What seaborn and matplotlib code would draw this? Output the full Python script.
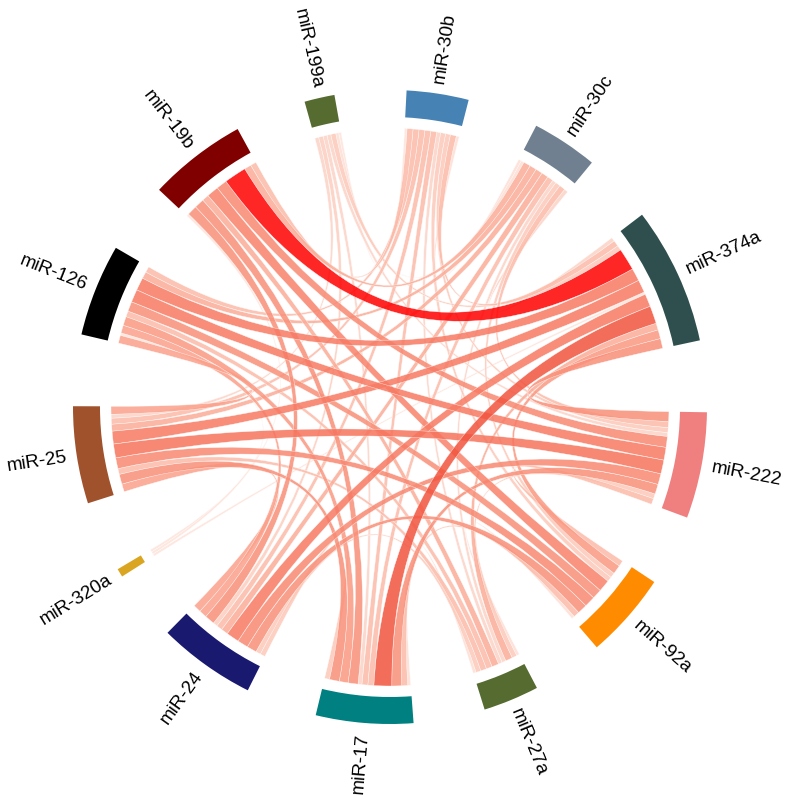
import numpy as np
import matplotlib
matplotlib.use("Agg")
import matplotlib.pyplot as plt
from matplotlib.path import Path
from matplotlib.patches import PathPatch, Wedge
from matplotlib.colors import LinearSegmentedColormap
import seaborn as sns

# sectors, clockwise from the top
mirnas = ["miR-30b", "miR-30c", "miR-374a", "miR-222", "miR-92a", "miR-27a", "miR-17",
          "miR-24", "miR-320a", "miR-25", "miR-126", "miR-19b", "miR-199a"]
block_colors = ["#4682b4", "#708090", "#2f4f4f", "#f08080", "#ff8c00", "#556b2f", "#008080",
                "#191970", "#daa520", "#a0522d", "#000000", "#800000", "#556b2f"]

# links (approximate widths)
link_from = ["miR-30b"] * 11 + ["miR-30c"] * 10 + ["miR-374a"] * 10 + ["miR-222"] * 8 \
    + ["miR-92a"] * 6 + ["miR-27a"] * 5 + ["miR-17"] * 5 + ["miR-24"] * 4 \
    + ["miR-320a"] * 2 + ["miR-25"] * 2
link_to = ["miR-30c", "miR-374a", "miR-222", "miR-92a", "miR-27a", "miR-17", "miR-24", "miR-25", "miR-126", "miR-19b", "miR-199a",
           "miR-374a", "miR-222", "miR-92a", "miR-27a", "miR-17", "miR-24", "miR-25", "miR-126", "miR-19b", "miR-199a",
           "miR-222", "miR-92a", "miR-27a", "miR-17", "miR-24", "miR-320a", "miR-25", "miR-126", "miR-19b", "miR-199a",
           "miR-92a", "miR-27a", "miR-17", "miR-24", "miR-25", "miR-126", "miR-19b", "miR-199a",
           "miR-27a", "miR-17", "miR-24", "miR-25", "miR-126", "miR-19b",
           "miR-17", "miR-24", "miR-25", "miR-126", "miR-19b",
           "miR-24", "miR-25", "miR-126", "miR-19b", "miR-199a",
           "miR-25", "miR-126", "miR-19b", "miR-199a",
           "miR-126", "miR-19b",
           "miR-126", "miR-199a"]
link_value = [0.6, 1.2, 1.0, 1.0, 0.8, 1.2, 1.2, 1.2, 1.2, 1.2, 0.5,
              0.8, 1.2, 1.0, 0.8, 1.2, 1.4, 1.4, 1.4, 1.4, 0.6,
              2.0, 1.8, 1.4, 3.6, 2.6, 0.5, 2.6, 2.6, 4.5, 1.0,
              1.2, 1.0, 2.0, 2.2, 2.8, 2.6, 2.2, 0.8,
              0.6, 1.2, 2.0, 2.2, 2.0, 2.4,
              0.6, 1.0, 1.2, 1.2, 1.4,
              1.0, 2.0, 1.8, 2.0, 0.8,
              1.6, 1.6, 2.0, 0.9,
              0.5, 0.5,
              1.6, 0.8]

sns.set_theme(style="white")
plt.rcParams["font.family"] = ["Liberation Sans", "DejaVu Sans"]

n = len(mirnas)
idx = {m: k for k, m in enumerate(mirnas)}
src = [idx[m] for m in link_from]
dst = [idx[m] for m in link_to]

totals = np.zeros(n)
for a, b, v in zip(src, dst, link_value):
    totals[a] += v
    totals[b] += v

gap = 13.1
start_angle = 3.0
scale = (360 - gap * n) / totals.sum()
starts = start_angle + np.concatenate([[0], np.cumsum(totals * scale + gap)[:-1]])
ends = starts + totals * scale

# place link ends inside each sector so the ribbons do not twist
end_pos = {}
for i in range(n):
    items = []
    for k, (a, b, v) in enumerate(zip(src, dst, link_value)):
        if a == i:
            items.append(((b - i) % n, k, v))
        elif b == i:
            items.append(((a - i) % n, k, v))
    items.sort(key=lambda t: -t[0])
    pos = starts[i]
    for off, k, v in items:
        end_pos[(k, i)] = (pos, pos + v * scale)
        pos += v * scale


def pt(theta, r):
    t = np.radians(theta)
    return (r * np.sin(t), r * np.cos(t))


def ribbon(a1, a2, b1, b2, r):
    verts, codes = [], []
    for j, t in enumerate(np.linspace(a1, a2, 30)):
        verts.append(pt(t, r))
        codes.append(Path.MOVETO if j == 0 else Path.LINETO)
    verts += [(0, 0), pt(b1, r)]
    codes += [Path.CURVE3, Path.CURVE3]
    for t in np.linspace(b1, b2, 30)[1:]:
        verts.append(pt(t, r))
        codes.append(Path.LINETO)
    verts += [(0, 0), pt(a1, r)]
    codes += [Path.CURVE3, Path.CURVE3]
    verts.append(pt(a1, r))
    codes.append(Path.CLOSEPOLY)
    return Path(verts, codes)


vmin, vmax = min(link_value), max(link_value)
stops = [(0.5, "#fde3da"), (1.0, "#fcc8b8"), (1.5, "#fba48e"), (2.0, "#f99079"),
         (2.8, "#f6735c"), (3.6, "#f2553e"), (4.5, "#ff0000")]
cmap = LinearSegmentedColormap.from_list(
    "links", [((v - vmin) / (vmax - vmin), c) for v, c in stops])

fig = plt.figure(figsize=(7.87, 8.02), dpi=100)
ax = fig.add_axes([0, 0, 1, 1])
ax.set_xlim(-390, 397)
ax.set_ylim(-395, 407)
ax.axis("off")

r_link, r_in, r_out, r_lab = 279, 290, 317, 327

order = np.argsort(link_value, kind="stable")
for k in order:
    a1, a2 = end_pos[(k, src[k])]
    b1, b2 = end_pos[(k, dst[k])]
    col = cmap((link_value[k] - vmin) / (vmax - vmin))
    ax.add_patch(PathPatch(ribbon(a1, a2, b1, b2, r_link), facecolor=col,
                           edgecolor="white", lw=0.3, alpha=0.85))

palette = sns.color_palette(block_colors)
for i, name in enumerate(mirnas):
    ax.add_patch(Wedge((0, 0), r_out, 90 - ends[i], 90 - starts[i], width=r_out - r_in,
                       facecolor=palette[i], edgecolor="none"))
    mid = (starts[i] + ends[i]) / 2
    x, y = pt(mid, r_lab)
    if mid % 360 < 180:
        rot, ha = 90 - mid, "left"
    else:
        rot, ha = 270 - mid, "right"
    ax.text(x, y, name, rotation=rot, rotation_mode="anchor", ha=ha, va="center",
            fontsize=13.5, color="black")

fig.savefig("out.png", dpi=100, facecolor="white")
